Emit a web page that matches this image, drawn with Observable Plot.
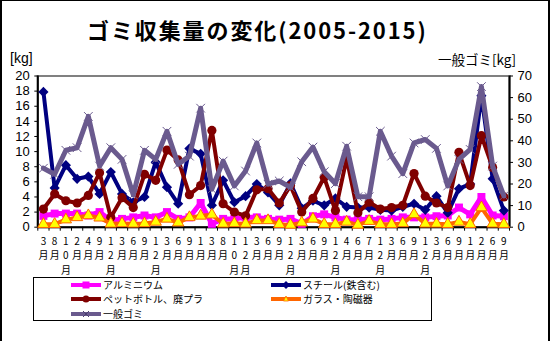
<!DOCTYPE html>
<html><head><meta charset="utf-8">
<script src="https://cdn.jsdelivr.net/npm/d3@7"></script>
<script src="https://cdn.jsdelivr.net/npm/@observablehq/plot@0.6"></script>
<style>
body{margin:0;background:#fff;}
#wrap{position:relative;width:550px;height:341px;overflow:hidden;font-family:"Noto Sans CJK JP",sans-serif;color:#000;background:#fff;}
#frame{position:absolute;left:0;top:0;width:546px;height:360px;border:2px solid #000;border-top-width:1px;pointer-events:none;}
#title{position:absolute;left:87px;top:18px;font-weight:bold;font-size:22px;line-height:22px;letter-spacing:1.9px;white-space:nowrap;}
.unit{position:absolute;font-size:14px;line-height:14px;white-space:nowrap;}
#chart{position:absolute;left:0;top:0;}
#legend{position:absolute;left:33px;top:277px;width:397px;height:42px;border:1.5px solid #000;font-size:10px;}
.li{position:absolute;display:flex;align-items:center;height:14.5px;line-height:14.5px;white-space:nowrap;}
.li svg{margin-right:1px;}
</style></head>
<body>
<div id="wrap">
  <div id="title">ゴミ収集量の変化(2005-2015)</div>
  <div class="unit" style="left:10px;top:51px;font-family:'Liberation Sans',Arial,sans-serif;">[kg]</div>
  <div class="unit" style="left:438px;top:52px;font-size:13.5px;">一般ゴミ[kg]</div>
  <div id="chart"></div>
  <div id="legend"></div>
  <div id="frame"></div>
</div>
<script>
const months = ["3月","8月","10月","2月","4月","9月","12月","3月","6月","9月","12月","3月","6月","9月","1月","3月","8月","10月","12月","3月","6月","9月","12月","3月","6月","9月","12月","4月","6月","7月","12月","3月","6月","9月","12月","3月","6月","9月","1月","2月","6月","9月"];
const aluminum = [1.5,1.8,1.8,1.8,1.55,2.0,0.9,1.1,1.3,1.55,1.3,2.0,1.1,1.3,3.2,0.45,1.1,1.1,1.3,1.3,1.1,1.0,1.1,0.45,1.45,1.7,1.3,1.0,1.0,1.1,1.0,1.1,1.3,1.3,1.3,1.45,1.55,2.6,1.7,4.0,1.55,1.45];
const steel = [17.9,5.2,8.2,6.4,6.7,4.4,7.3,4.4,3.3,4.0,8.6,5.3,3.1,10.4,9.7,2.9,6.2,3.3,4.1,5.7,4.6,2.9,5.8,2.5,3.5,2.9,3.8,2.7,2.6,2.6,2.3,2.2,2.7,3.1,2.3,4.1,1.9,5.1,5.7,17.4,6.4,2.2];
const pet = [2.4,4.4,3.5,3.2,4.2,7.2,1.3,3.9,2.6,7.0,6.2,10.2,8.9,4.3,5.5,12.8,3.1,2.0,1.5,4.95,5.1,3.2,5.5,2.0,3.8,6.6,2.2,9.1,1.9,3.3,2.4,2.6,2.9,7.1,4.1,3.2,2.6,9.9,5.5,12.1,7.9,4.0];
const glass = [0.4,0.4,1.0,1.3,1.55,1.25,0.45,0.5,0.45,0.5,0.7,1.1,0.6,1.3,1.5,1.65,0.45,0.5,0.45,0.9,0.9,0.4,0.3,0.6,1.1,0.4,0.4,0.7,0.3,0.8,0.4,0.4,0.5,1.7,0.45,0.45,0.4,0.7,0.4,2.6,0.45,0.4];
const general = [27.3,24.5,35.6,36.8,51.3,28.3,36.8,31.4,15.0,35.6,31.4,44.4,29.1,32.9,55.1,17.6,30.6,19.1,26.0,39.0,19.9,21.4,18.4,30.3,37.1,25.7,20.2,37.5,14.1,14.1,44.4,32.9,24.8,39.0,40.6,36.5,19.1,31.4,36.0,65.1,28.3,14.5];
const leftTicks = [0,2,4,6,8,10,12,14,16,18,20];
const rightTicks = [0,10,20,30,40,50,60,70];
const seriesNames = ["アルミニウム","スチール(鉄含む)","ペットボトル、廃プラ","ガラス・陶磁器","一般ゴミ"];

const ratio = 70/20;
const C = {al:"#FF00FF", st:"#000080", pet:"#800000", gl:"#FF6600", glFill:"#FFFF00", gen:"#6A5A8E"};
const X = (d,i) => i;

const chart = Plot.plot({
  width: 550, height: 275,
  marginTop: 75.5, marginBottom: 48.3, marginLeft: 37.3, marginRight: 41,
  x: {type: "linear", domain: [-0.5, months.length - 0.5], axis: null},
  y: {domain: [0, 20], axis: null},
  style: {fontFamily: "'Liberation Sans', Arial, sans-serif", fontSize: "13px", background: "transparent", overflow: "visible", color: "#000"},
  marks: [
    Plot.frame({stroke: "#808080", strokeWidth: 2}),
    Plot.ruleX([-0.5, months.length - 0.5], {stroke: "#000", strokeWidth: 2}),
    Plot.ruleY([0], {stroke: "#000", strokeWidth: 2}),
    Plot.axisX({ticks: d3.range(months.length + 1).map(i => i - 0.5), tickFormat: () => "", tickSize: 4, label: null, stroke: "#000"}),
    Plot.axisY({anchor: "left", ticks: leftTicks, tickSize: 3, tickPadding: 5, label: null, fontSize: 13}),
    Plot.axisY({anchor: "right", ticks: rightTicks.map(v => v / ratio), tickFormat: d => String(Math.round(d * ratio)), tickSize: 3, tickPadding: 5, label: null, fontSize: 13}),
    // アルミニウム
    Plot.lineY(aluminum, {x: X, y: d => d, stroke: C.al, strokeWidth: 5}),
    Plot.dot(aluminum, {x: X, y: d => d, symbol: "square", r: 4.5, fill: C.al}),
    // スチール
    Plot.lineY(steel, {x: X, y: d => d, stroke: C.st, strokeWidth: 4}),
    Plot.dot(steel, {x: X, y: d => d, symbol: "diamond2", r: 4.6, fill: C.st}),
    // ペットボトル
    Plot.lineY(pet, {x: X, y: d => d, stroke: C.pet, strokeWidth: 4}),
    Plot.dot(pet, {x: X, y: d => d, symbol: "circle", r: 4.6, fill: C.pet}),
    // ガラス
    Plot.lineY(glass, {x: X, y: d => d, stroke: C.gl, strokeWidth: 4}),
    Plot.dot(glass, {x: X, y: d => d, symbol: "triangle", r: 4.2, fill: C.glFill, stroke: C.gl, strokeWidth: 1}),
    // 一般ゴミ (right axis)
    Plot.lineY(general, {x: X, y: d => d / ratio, stroke: C.gen, strokeWidth: 5}),
    Plot.dot(general, {x: X, y: d => d / ratio, symbol: "times", r: 4, stroke: C.gen, strokeWidth: 1}),
    // x tick labels (vertical)
    Plot.text(months, {x: X, text: d => [...d].join("\n"), frameAnchor: "bottom", lineAnchor: "top", dy: 7.5, fontSize: 10, lineHeight: 1.45, fill: "#000", fontFamily: "'Noto Sans CJK JP', sans-serif"})
  ]
});
document.getElementById("chart").appendChild(chart);

// legend
const legend = document.getElementById("legend");
const items = [
  {name: seriesNames[0], color: C.al, sym: "square", col: 0, row: 0},
  {name: seriesNames[1], color: C.st, sym: "diamond", col: 1, row: 0},
  {name: seriesNames[2], color: C.pet, sym: "circle", col: 0, row: 1},
  {name: seriesNames[3], color: C.gl, sym: "triangle", col: 1, row: 1},
  {name: seriesNames[4], color: C.gen, sym: "times", col: 0, row: 2}
];
const ns = "http://www.w3.org/2000/svg";
for (const it of items) {
  const div = document.createElement("div");
  div.className = "li";
  div.style.left = (it.col ? 236 : 36) + "px";
  div.style.top = (it.row * 14.5 - 0.5) + "px";
  const svg = document.createElementNS(ns, "svg");
  svg.setAttribute("width", 32); svg.setAttribute("height", 12);
  const line = document.createElementNS(ns, "line");
  line.setAttribute("x1", 1); line.setAttribute("x2", 31); line.setAttribute("y1", 6); line.setAttribute("y2", 6);
  line.setAttribute("stroke", it.color); line.setAttribute("stroke-width", 4);
  svg.appendChild(line);
  let m;
  if (it.sym === "square") { m = document.createElementNS(ns, "rect"); m.setAttribute("x", 12.5); m.setAttribute("y", 2.5); m.setAttribute("width", 7); m.setAttribute("height", 7); m.setAttribute("fill", it.color); }
  else if (it.sym === "diamond") { m = document.createElementNS(ns, "path"); m.setAttribute("d", "M16 2L20 6L16 10L12 6Z"); m.setAttribute("fill", it.color); }
  else if (it.sym === "circle") { m = document.createElementNS(ns, "circle"); m.setAttribute("cx", 16); m.setAttribute("cy", 6); m.setAttribute("r", 3.5); m.setAttribute("fill", it.color); }
  else if (it.sym === "triangle") { m = document.createElementNS(ns, "path"); m.setAttribute("d", "M16 3L18.5 8L13.5 8Z"); m.setAttribute("fill", C.glFill); m.setAttribute("stroke", it.color); m.setAttribute("stroke-width", 0.8); }
  else { m = document.createElementNS(ns, "path"); m.setAttribute("d", "M13 3L19 9M19 3L13 9"); m.setAttribute("stroke", "#4a3d6e"); m.setAttribute("stroke-width", 1); }
  svg.appendChild(m);
  div.appendChild(svg);
  const span = document.createElement("span");
  span.textContent = it.name;
  div.appendChild(span);
  legend.appendChild(div);
}
</script>
</body></html>
